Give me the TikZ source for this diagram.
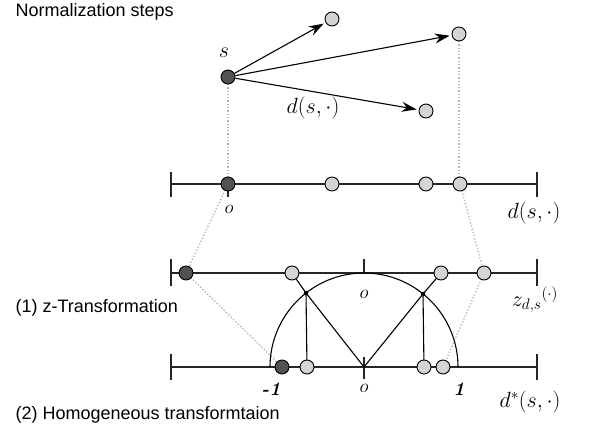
\RequirePackage{fix-cm}
\documentclass[tikz,border=0pt]{standalone}
\usepackage{fontspec}
\newfontfamily\sansf{Liberation Sans}
\usetikzlibrary{arrows.meta}
\begin{document}
\begin{tikzpicture}[x=1pt,y=-1pt,
  lt/.style={circle,draw=black,line width=0.9pt,fill=black!17,minimum size=14pt,inner sep=0pt},
  dk/.style={circle,draw=black,line width=0.9pt,fill=black!68,minimum size=14pt,inner sep=0pt},
  dot/.style={circle,fill=black,minimum size=4.5pt,inner sep=0pt},
  axis/.style={line width=1.1pt,black!85},
  guide/.style={black!30,dotted,line width=1.3pt},
  arr/.style={line width=1.1pt,-{Stealth[length=15pt,width=10pt,inset=5pt]},shorten >=2pt},
  mlab/.style={font=\fontsize{22}{26}\selectfont},
  slab/.style={font=\fontsize{19}{22}\selectfont},
  txt/.style={font=\sansf\fontsize{18}{20}\selectfont,anchor=west}]
\useasboundingbox (0,0) rectangle (589,430);
\node[txt] (title) at (12,12) {Normalization steps};
\node[txt] (t1) at (12,308) {(1) z-Transformation};
\node[txt] (t2) at (12,415) {(2) Homogeneous transformtaion};

% coordinates
\coordinate (a1L) at (171,184); \coordinate (a1R) at (537,184);
\coordinate (a2L) at (171,273); \coordinate (a2R) at (537,273);
\coordinate (a3L) at (171,367); \coordinate (a3R) at (537,367);
\coordinate (ctr) at (364,367);

% guides
\draw[guide] (228,84) -- (228,177);
\draw[guide] (459,41) -- (459,177);
\draw[guide] (228,184) -- (186,273);
\draw[guide] (460,184) -- (484,273);
\draw[guide] (186,273) -- (282,367);
\draw[guide] (484,273) -- (443,367);

% axes
\draw[axis] (a1L) -- (a1R);
\draw[axis] (171,172) -- (171,197) (537,172) -- (537,197) (228,177) -- (228,197);
\draw[axis] (a2L) -- (a2R);
\draw[axis] (171,259) -- (171,286) (537,259) -- (537,286) (364,259) -- (364,273);
\draw[axis] (a3L) -- (a3R);
\draw[axis] (171,354) -- (171,380) (537,354) -- (537,380) (364,357) -- (364,379);

% semicircle
\draw[line width=1.1pt] (270,367) arc[start angle=180,end angle=360,radius=94];
\coordinate (pL) at (306,293);
\coordinate (pR) at (423,294);
\draw[line width=1.1pt] (292,273) -- (pL) -- (ctr) -- (pR) -- (441,273);
\draw[line width=1.1pt] (pL) -- (307,367);
\draw[line width=1.1pt] (pR) -- (424,367);
\node[dot] (dL) at (pL) {};
\node[dot] (dR) at (pR) {};

% top graph
\node[dk] (s) at (228,77) {};
\node[lt] (n1) at (332,19) {};
\node[lt] (n2) at (459,34) {};
\node[lt] (n3) at (426,111) {};
\draw[arr] (s) -- (n1);
\draw[arr] (s) -- (n2);
\draw[arr] (s) -- (n3);
\node[mlab] (slab) at (224,53) {$s$};
\node[mlab] (dlab) at (313,108) {$d(s,\cdot)$};

% line 1 points
\node[dk] (b0) at (228,184) {};
\node[lt] (b1) at (332,184) {};
\node[lt] (b2) at (426,184) {};
\node[lt] (b3) at (460,184) {};
\node[slab] (o1) at (229,209) {$o$};
\node[mlab] (l1) at (534,213) {$d(s,\cdot)$};

% line 2 points
\node[dk] (c0) at (186,273) {};
\node[lt] (c1) at (292,273) {};
\node[lt] (c2) at (441,273) {};
\node[lt] (c3) at (484,273) {};
\node[slab] (o2) at (364,294) {$o$};
\node[mlab] (l2) at (535,300) {$z_{d,s}{}^{(\cdot)}$};

% line 3 points
\node[dk] (e0) at (282,367) {};
\node[lt] (e1) at (307,367) {};
\node[lt] (e2) at (424,367) {};
\node[lt] (e3) at (443,367) {};
\node[slab] (m1) at (271,389) {\bfseries\itshape -1};
\node[slab] (o3) at (364,388) {$o$};
\node[slab] (p1) at (459,389) {\bfseries\itshape 1};
\node[mlab] (l3) at (530,402) {$d^{*}(s,\cdot)$};
\end{tikzpicture}
\end{document}
